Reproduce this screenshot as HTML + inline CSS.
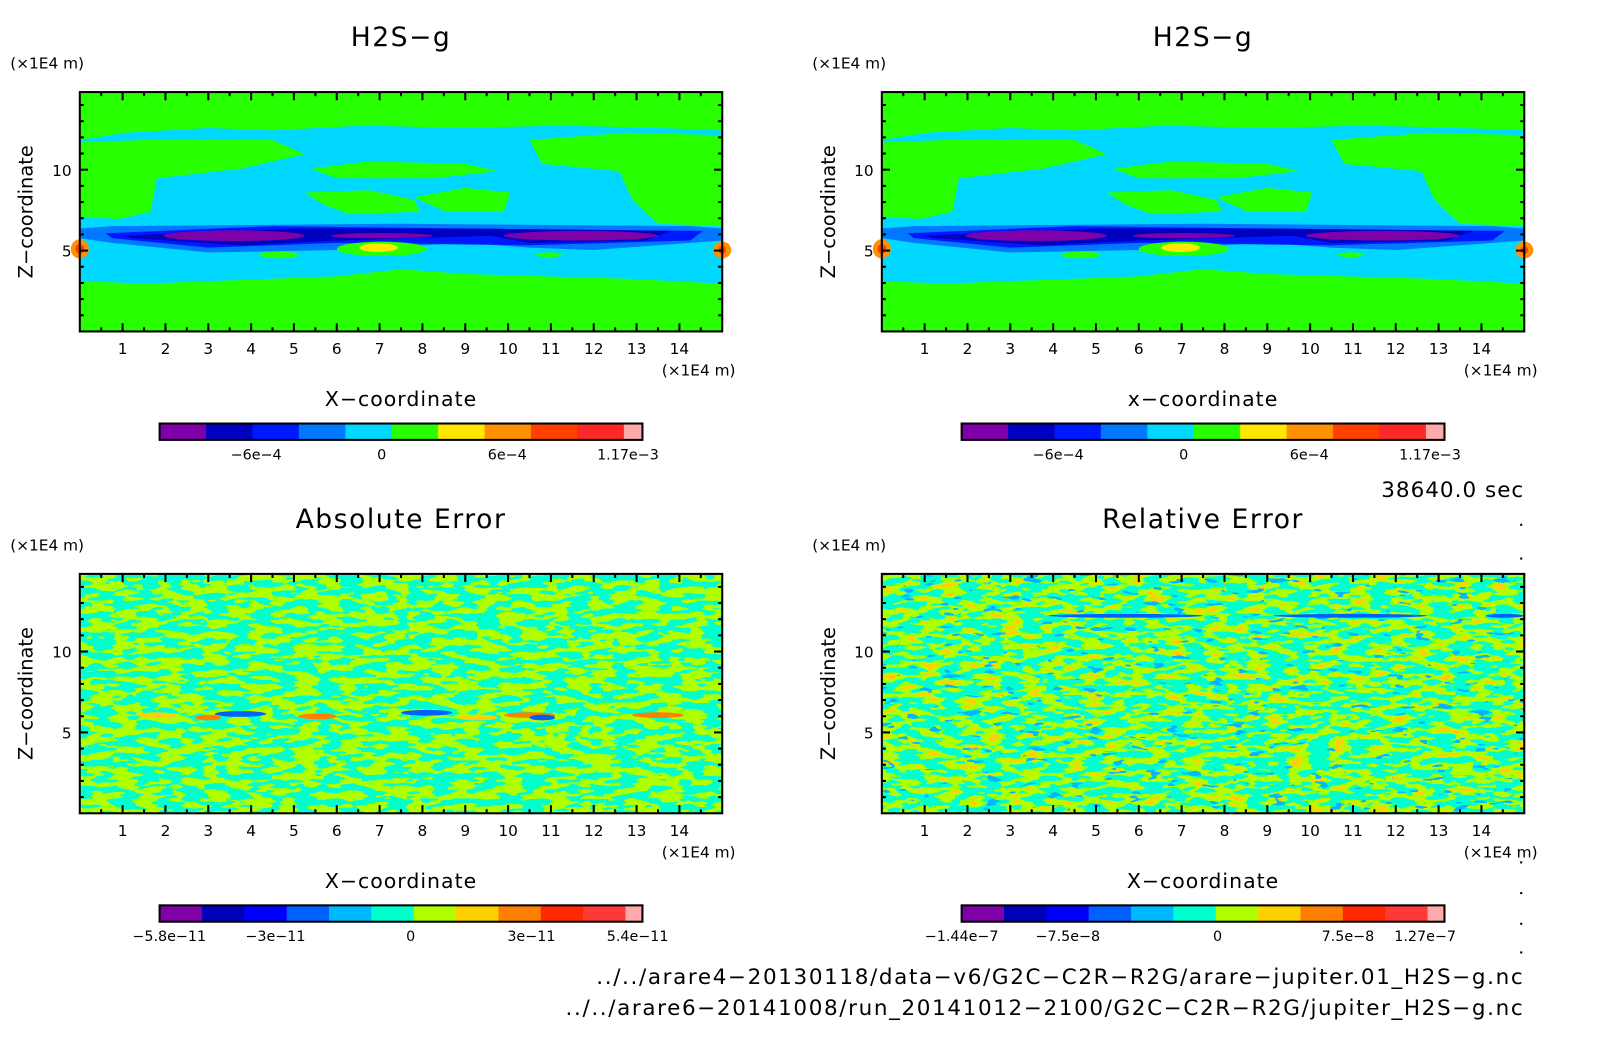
<!DOCTYPE html>
<html><head><meta charset="utf-8">
<style>
body{margin:0;background:#fff;}
svg{display:block;font-family:"DejaVu Sans","Liberation Sans",sans-serif;}
</style></head>
<body>
<svg id="fig" width="1604" height="1054" viewBox="0 0 1604 1054" xmlns="http://www.w3.org/2000/svg">
<defs>
<filter id="noiseA" x="0" y="0" width="1" height="1" color-interpolation-filters="sRGB">
 <feTurbulence type="fractalNoise" baseFrequency="0.045 0.16" numOctaves="2" seed="4" result="t"/>
 <feColorMatrix in="t" type="matrix" values="0 0 0 0 0 0 0 0 0 0 0 0 0 0 0 1 0 0 0 0" result="a"/>
 <feComponentTransfer in="a" result="m"><feFuncA type="discrete" tableValues="0 0 0 0 0 1 1 1 1 1"/></feComponentTransfer>
 <feFlood flood-color="#b0ff00" result="f"/>
 <feComposite in="f" in2="m" operator="in" result="g"/>
 <feFlood flood-color="#00ffcc" result="b"/>
 <feMerge><feMergeNode in="b"/><feMergeNode in="g"/></feMerge>
</filter>
<filter id="noiseR" x="0" y="0" width="1" height="1" color-interpolation-filters="sRGB">
 <feTurbulence type="fractalNoise" baseFrequency="0.05 0.17" numOctaves="2" seed="9" result="t"/>
 <feColorMatrix in="t" type="matrix" values="0 0 0 0 0 0 0 0 0 0 0 0 0 0 0 1 0 0 0 0" result="a"/>
 <feComponentTransfer in="a" result="m1"><feFuncA type="discrete" tableValues="0 0 0 0 0 1 1 1 1 1"/></feComponentTransfer>
 <feComponentTransfer in="a" result="m2"><feFuncA type="discrete" tableValues="0 0 0 0 0 0 0 1 1 1"/></feComponentTransfer>
 <feColorMatrix in="t" type="matrix" values="0 0 0 0 0 0 0 0 0 0 0 0 0 0 0 0 1 0 0 0" result="a2"/>
 <feComponentTransfer in="a2" result="m3"><feFuncA type="discrete" tableValues="1 1 1 0 0 0 0 0 0 0"/></feComponentTransfer>
 <feFlood flood-color="#b0ff00" result="f1"/><feComposite in="f1" in2="m1" operator="in" result="g1"/>
 <feFlood flood-color="#ffd000" result="f2"/><feComposite in="f2" in2="m2" operator="in" result="g2"/>
 <feFlood flood-color="#00b8ff" result="f3"/><feComposite in="f3" in2="m3" operator="in" result="g3"/>
 <feFlood flood-color="#00ffcc" result="b"/>
 <feMerge><feMergeNode in="b"/><feMergeNode in="g1"/><feMergeNode in="g2"/><feMergeNode in="g3"/></feMerge>
</filter>
</defs>
<g id="root" transform="scale(1.023)"></g>
</svg>
<script>
const NS="http://www.w3.org/2000/svg";
const root=document.getElementById('root');
function mk(tag,attrs,parent,text){const e=document.createElementNS(NS,tag);for(const k in attrs)e.setAttribute(k,attrs[k]);if(text!==undefined)e.textContent=text;(parent||root).appendChild(e);return e;}

const xTicks=[1,2,3,4,5,6,7,8,9,10,11,12,13,14];
const zTicks=[5,10];
const xMax=15, zMax=14.8;
const topCbarColors=["#7f00a8","#0000c0","#0018ff","#0078ff","#00d8ff","#28ff00","#ffe800","#ff9000","#ff4000","#ff2828","#ffaaaa"];
const botCbarColors=["#8000a8","#0000b8","#0000ff","#0060ff","#00b8ff","#00ffcc","#b0ff00","#ffd000","#ff8000","#ff2800","#ff3838","#ffaaaa"];
const topCbarLabels=[["-6e-4",0.2],["0",0.46],["6e-4",0.72],["1.17e-3",0.97]];
const absCbarLabels=[["-5.8e-11",0.02],["-3e-11",0.24],["0",0.52],["3e-11",0.77],["5.4e-11",0.99]];
const relCbarLabels=[["-1.44e-7",0.0],["-7.5e-8",0.22],["0",0.53],["7.5e-8",0.8],["1.27e-7",0.96]];

const panels=[
 {x:78,y:90,title:"H2S\u2212g",xl:"X\u2212coordinate",kind:"field",cb:topCbarColors,cbl:topCbarLabels,id:"tl"},
 {x:862,y:90,title:"H2S\u2212g",xl:"x\u2212coordinate",kind:"field",cb:topCbarColors,cbl:topCbarLabels,id:"tr"},
 {x:78,y:561,title:"Absolute Error",xl:"X\u2212coordinate",kind:"abs",cb:botCbarColors,cbl:absCbarLabels,id:"bl"},
 {x:862,y:561,title:"Relative Error",xl:"X\u2212coordinate",kind:"rel",cb:botCbarColors,cbl:relCbarLabels,id:"br"}
];
const W=628,H=234;

function poly(g,pts,fill){const d=pts.map((p,i)=>(i?'L':'M')+p[0]+' '+p[1]).join(' ')+'Z';return mk('path',{d:d,fill:fill},g);}
function ell(g,cx,cy,rx,ry,fill){return mk('ellipse',{cx:cx,cy:cy,rx:rx,ry:ry,fill:fill},g);}

function drawField(g){
 mk('rect',{x:0,y:0,width:1,height:1,fill:"#28ff00"},g);
 poly(g,[[0,.2],[.07,.17],[.2,.15],[.3,.16],[.44,.14],[.6,.15],[.75,.14],[.9,.15],[1,.16],[1,.8],[.85,.78],[.6,.76],[.5,.74],[.4,.77],[.1,.8],[0,.79]],"#00d8ff");
 poly(g,[[0,.21],[.1,.2],[.3,.2],[.35,.26],[.25,.32],[.12,.36],[.11,.5],[.06,.53],[0,.52]],"#28ff00");
 poly(g,[[.36,.32],[.45,.29],[.6,.3],[.65,.33],[.55,.36],[.4,.36]],"#28ff00");
 poly(g,[[.35,.42],[.45,.41],[.52,.45],[.53,.5],[.42,.51],[.38,.47]],"#28ff00");
 poly(g,[[.52,.44],[.6,.4],[.67,.42],[.66,.5],[.57,.5]],"#28ff00");
 poly(g,[[.7,.2],[.85,.17],[1,.18],[1,.56],[.9,.55],[.86,.45],[.84,.33],[.72,.3]],"#28ff00");
 poly(g,[[0,.57],[.05,.56],[.5,.55],[.95,.56],[1,.57],[1,.62],[.8,.66],[.7,.65],[.6,.63],[.4,.66],[.2,.67],[.05,.63],[0,.61]],"#0078ff");
 poly(g,[[.04,.59],[.3,.56],[.6,.57],[.97,.58],[.95,.62],[.7,.64],[.4,.63],[.2,.65],[.05,.61]],"#0018ff");
 poly(g,[[.07,.6],[.35,.57],[.6,.57],[.92,.58],[.88,.62],[.7,.63],[.64,.6],[.4,.62],[.25,.64],[.08,.61]],"#0000c0");
 ell(g,.24,.6,.11,.022,"#7f00a8");ell(g,.47,.6,.08,.011,"#7f00a8");ell(g,.78,.6,.12,.02,"#7f00a8");
 ell(g,.47,.655,.07,.03,"#28ff00");ell(g,.465,.65,.03,.018,"#ffe800");
 ell(g,.31,.68,.03,.014,"#28ff00");ell(g,.73,.68,.02,.01,"#28ff00");
 ell(g,0,.655,.014,.04,"#ff9000");ell(g,0,.655,.007,.02,"#ff4000");
 ell(g,1,.66,.014,.035,"#ff9000");ell(g,1,.66,.006,.016,"#ff4000");
}

panels.forEach(p=>{
 const pg=mk('g',{});
 
 
 const sx=v=>p.x+v/xMax*W, sy=v=>p.y+H-v/zMax*H;
 const cx=p.x+W/2;
 const t=mk('text',{x:cx,y:p.y-45,'font-size':26,'text-anchor':'middle',fill:'#000','letter-spacing':1.5},pg,p.title);
 
 const u=mk('text',{x:p.x-68,y:p.y-23,'font-size':15,fill:'#000'},pg,"(\u00d71E4 m)");
 
 const area=mk('g',{},pg);
 
 if(p.kind==="field"){
  const g=mk('g',{transform:`translate(${p.x},${p.y}) scale(${W},${H})`},area);drawField(g);
 } else {
  mk('rect',{x:p.x,y:p.y,width:W,height:H,fill:'#00ffcc',filter:p.kind==="abs"?"url(#noiseA)":"url(#noiseR)"},area);
  const g=mk('g',{transform:`translate(${p.x},${p.y}) scale(${W},${H})`},area);
  if(p.kind==="abs"){
   [[.12,.59,.03,'#ffd000'],[.25,.585,.04,'#0060ff'],[.37,.595,.03,'#ff8000'],[.54,.58,.04,'#0060ff'],[.7,.59,.04,'#ff8000'],[.72,.6,.02,'#0060ff'],[.9,.59,.04,'#ff8000'],[.2,.6,.02,'#ff8000'],[.62,.6,.03,'#ffd000']].forEach(a=>ell(g,a[0],a[1],a[2],.012,a[3]));
  } else {
   [[.38,.175,.12],[.73,.175,.12],[.97,.175,.03]].forEach(a=>ell(g,a[0],a[1],a[2],.008,'#0060ff'));
  }
 }
 mk('rect',{x:p.x,y:p.y,width:W,height:H,fill:'none',stroke:'#000','stroke-width':2},pg);
 for(let v=0.5;v<xMax;v+=0.5){
  const major=Number.isInteger(v);const L=major?8:4;const x=sx(v);
  mk('line',{x1:x,y1:p.y+H,x2:x,y2:p.y+H-L,stroke:'#000','stroke-width':2},pg);
  mk('line',{x1:x,y1:p.y,x2:x,y2:p.y+L,stroke:'#000','stroke-width':2},pg);
 }
 xTicks.forEach(v=>{const l=mk('text',{x:sx(v),y:p.y+H+22,'font-size':15,'text-anchor':'middle'},pg,String(v));});
 for(let v=1;v<zMax;v+=1){
  const major=v%5===0;const L=major?8:4;const y=sy(v);
  mk('line',{x1:p.x,y1:y,x2:p.x+L,y2:y,stroke:'#000','stroke-width':2},pg);
  mk('line',{x1:p.x+W,y1:y,x2:p.x+W-L,y2:y,stroke:'#000','stroke-width':2},pg);
 }
 zTicks.forEach(v=>{const l=mk('text',{x:p.x-8,y:sy(v)+6,'font-size':15,'text-anchor':'end'},pg,String(v));});
 const yl=mk('text',{x:0,y:0,'font-size':19,'text-anchor':'middle',transform:`translate(${p.x-46},${p.y+H/2}) rotate(-90)`},pg,"Z\u2212coordinate");
 
 const xu=mk('text',{x:p.x+W+13,y:p.y+H+43,'font-size':15,'text-anchor':'end'},pg,"(\u00d71E4 m)");
 
 const xl=mk('text',{x:cx,y:p.y+H+73,'font-size':20,'text-anchor':'middle','letter-spacing':1},pg,p.xl);
 
 const cb=mk('g',{},pg);
 
 const bx=p.x+78, bw=472, by=p.y+H+90, bh=16;
 const n=p.cb.length; const segW=bw/(n-0.6);
 p.cb.forEach((c,i)=>{const w=i===n-1?segW*0.4:segW;mk('rect',{x:bx+i*segW,y:by,width:w+0.5,height:bh,fill:c},cb);});
 mk('rect',{x:bx,y:by,width:bw,height:bh,fill:'none',stroke:'#000','stroke-width':2},cb);
 p.cbl.forEach(l=>{const e=mk('text',{x:bx+l[1]*bw,y:by+bh+19,'font-size':14,'text-anchor':'middle'},cb,l[0].replace(/-/g,'\u2212'));});
});
const tm=mk('text',{x:1490,y:486,'font-size':21,'text-anchor':'end','letter-spacing':1},root,"38640.0 sec");

const f1=mk('text',{x:1490,y:962,'font-size':21,'text-anchor':'end','letter-spacing':1.6},root,"../../arare4\u221220130118/data\u2212v6/G2C\u2212C2R\u2212R2G/arare\u2212jupiter.01_H2S\u2212g.nc");

const f2=mk('text',{x:1490,y:992,'font-size':21,'text-anchor':'end','letter-spacing':1.6},root,"../../arare6\u221220141008/run_20141012\u22122100/G2C\u2212C2R\u2212R2G/jupiter_H2S\u2212g.nc");

[512,545,842,872,902,930].forEach(y=>mk('rect',{x:1486,y:y,width:2,height:2,fill:'#000'}));
</script>
</body></html>
